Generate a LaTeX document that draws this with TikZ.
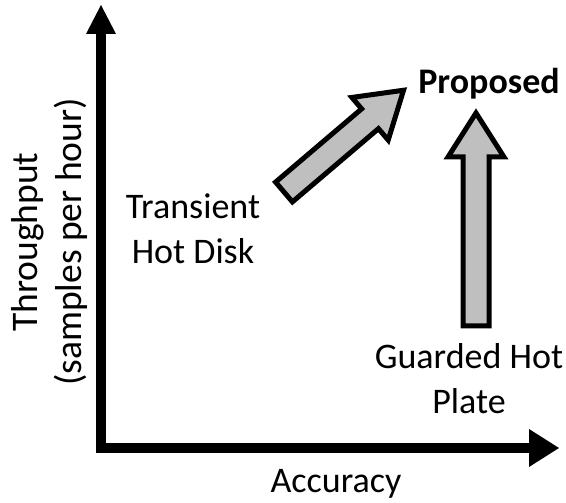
\documentclass[tikz,border=0pt]{standalone}
\usepackage{fontspec}
\setmainfont{Carlito}
\usetikzlibrary{
    calc,
    positioning
}
\tikzset{
    label/.style={align=center, inner sep=0pt, font=\fontsize{36}{45}\selectfont},
    axis/.style={line width=10pt},
    axishead/.style={fill=black},
    fatarrow/.pic={
        \draw[line width=5pt, fill=black!25, line join=miter]
            (0,-13) -- (#1-44,-13) -- (#1-44,-28) -- (#1,0)
            -- (#1-44,28) -- (#1-44,13) -- (0,13) -- cycle;
    }
}

\begin{document}
\begin{tikzpicture}[x=1pt, y=1pt]
    \useasboundingbox (0,0) rectangle (566,503);

    % axes
    \coordinate (origin) at (101,55);
    \coordinate (ybase) at (101,469);
    \coordinate (xbase) at (529,55);
    \draw[axis] (ybase) -- (origin |- 0,50) (96,55) -- (xbase);
    \fill[axishead] ($(ybase)+(-15,0)$) -- ($(ybase)+(15,0)$) -- (101,498) -- cycle;
    \fill[axishead] ($(xbase)+(0,-19)$) -- ($(xbase)+(0,19)$) -- (559,55) -- cycle;

    \node[label] (xlabel) at (336,19) {Accuracy};
    \node[label, rotate=90, font=\fontsize{37.5}{44}\selectfont] (ylabel) at (50,261) {Throughput\\(samples per hour)};

    % methods
    \node[label] (hotdisk) at (193,274) {Transient\\Hot Disk};
    \node[label] (hotplate) at (469,124) {Guarded Hot\\Plate};
    \node[label, font=\fontsize{36}{45}\selectfont\bfseries] (proposed) at (489,419) {Proposed};

    \coordinate (disktail) at (284,311);
    \coordinate (platetail) at (476,177);
    \pic[rotate=40.4] at (disktail) {fatarrow=157};
    \pic[rotate=90] at (platetail) {fatarrow=213};
\end{tikzpicture}
\end{document}
